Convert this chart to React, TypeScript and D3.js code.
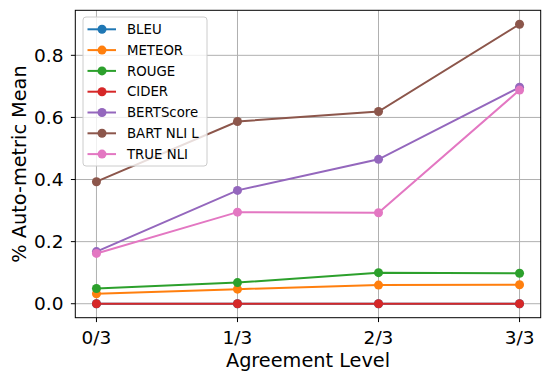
import React from "react";
import * as d3 from "d3";

const categories = ["0/3", "1/3", "2/3", "3/3"];
const seriesNames = ["BLEU", "METEOR", "ROUGE", "CIDER", "BERTScore", "BART NLI L", "TRUE NLI"];
const bleu = [0.0, 0.0, 0.0, 0.0];
const meteor = [0.032, 0.047, 0.06, 0.061];
const rouge = [0.049, 0.068, 0.1, 0.098];
const cider = [0.0, 0.0, 0.0, 0.0];
const bertscore = [0.168, 0.365, 0.465, 0.697];
const bartNli = [0.393, 0.587, 0.619, 0.9];
const trueNli = [0.162, 0.295, 0.293, 0.688];
const yTicks = [0.0, 0.2, 0.4, 0.6, 0.8];
const colors = ["#1f77b4", "#ff7f0e", "#2ca02c", "#d62728", "#9467bd", "#8c564b", "#e377c2"];

const allSeries = [bleu, meteor, rouge, cider, bertscore, bartNli, trueNli];

export default function App() {
  const W = 550, H = 381;
  const left = 75.3, right = 540.7, top = 10.3, bottom = 317.7;
  const x = d3.scaleLinear().domain([-0.15, 3.15]).range([left, right]);
  const yMax = 0.9, yMin = 0;
  const pad = (yMax - yMin) * 0.05;
  const y = d3.scaleLinear().domain([yMin - pad, yMax + pad]).range([bottom, top]);
  const line = d3.line<number>().x((_, i) => x(i)).y((d) => y(d));
  const font = "DejaVu Sans, sans-serif";
  const legX = 83, legY = 17, legW = 124, legH = 149, rowH = 20.8;

  return (
    <svg width={W} height={H} style={{ position: "absolute", left: 0, top: 0 }} fontFamily={font}>
      <rect width={W} height={H} fill="#fff" />
      {categories.map((c, i) => (
        <line key={"gx" + c} x1={x(i)} x2={x(i)} y1={top} y2={bottom} stroke="#b0b0b0" strokeWidth={1} />
      ))}
      {yTicks.map((t) => (
        <line key={"gy" + t} x1={left} x2={right} y1={y(t)} y2={y(t)} stroke="#b0b0b0" strokeWidth={1} />
      ))}
      {allSeries.map((s, k) => (
        <g key={seriesNames[k]}>
          <path d={line(s) || ""} fill="none" stroke={colors[k]} strokeWidth={2} />
          {s.map((v, i) => (
            <circle key={i} cx={x(i)} cy={y(v)} r={4.5} fill={colors[k]} />
          ))}
        </g>
      ))}
      <rect x={left} y={top} width={right - left} height={bottom - top} fill="none" stroke="#000" strokeWidth={1} />
      {categories.map((c, i) => (
        <g key={"xt" + c}>
          <line x1={x(i)} x2={x(i)} y1={bottom} y2={bottom + 4.4} stroke="#000" strokeWidth={1} />
          <text x={x(i)} y={344} textAnchor="middle" fontSize={18.5} fill="#000">{c}</text>
        </g>
      ))}
      {yTicks.map((t) => (
        <g key={"yt" + t}>
          <line x1={left - 4.4} x2={left} y1={y(t)} y2={y(t)} stroke="#000" strokeWidth={1} />
          <text x={63.5} y={y(t)} dy="0.36em" textAnchor="end" fontSize={18.5} fill="#000">{t.toFixed(1)}</text>
        </g>
      ))}
      <text x={(left + right) / 2} y={367} textAnchor="middle" fontSize={19.3} fill="#000">Agreement Level</text>
      <text transform={`translate(25.5, ${(top + bottom) / 2}) rotate(-90)`} textAnchor="middle" fontSize={19.3} fill="#000">% Auto-metric Mean</text>
      <rect x={legX} y={legY} width={legW} height={legH} rx={3} fill="#fff" fillOpacity={0.8} stroke="#cccccc" strokeWidth={1} />
      {seriesNames.map((n, k) => {
        const cy = 29.3 + k * rowH;
        return (
          <g key={"lg" + n}>
            <line x1={87.5} x2={116} y1={cy} y2={cy} stroke={colors[k]} strokeWidth={2} />
            <circle cx={102} cy={cy} r={4.5} fill={colors[k]} />
            <text x={127} y={cy} dy="0.36em" fontSize={13.3} fill="#000">{n}</text>
          </g>
        );
      })}
    </svg>
  );
}
